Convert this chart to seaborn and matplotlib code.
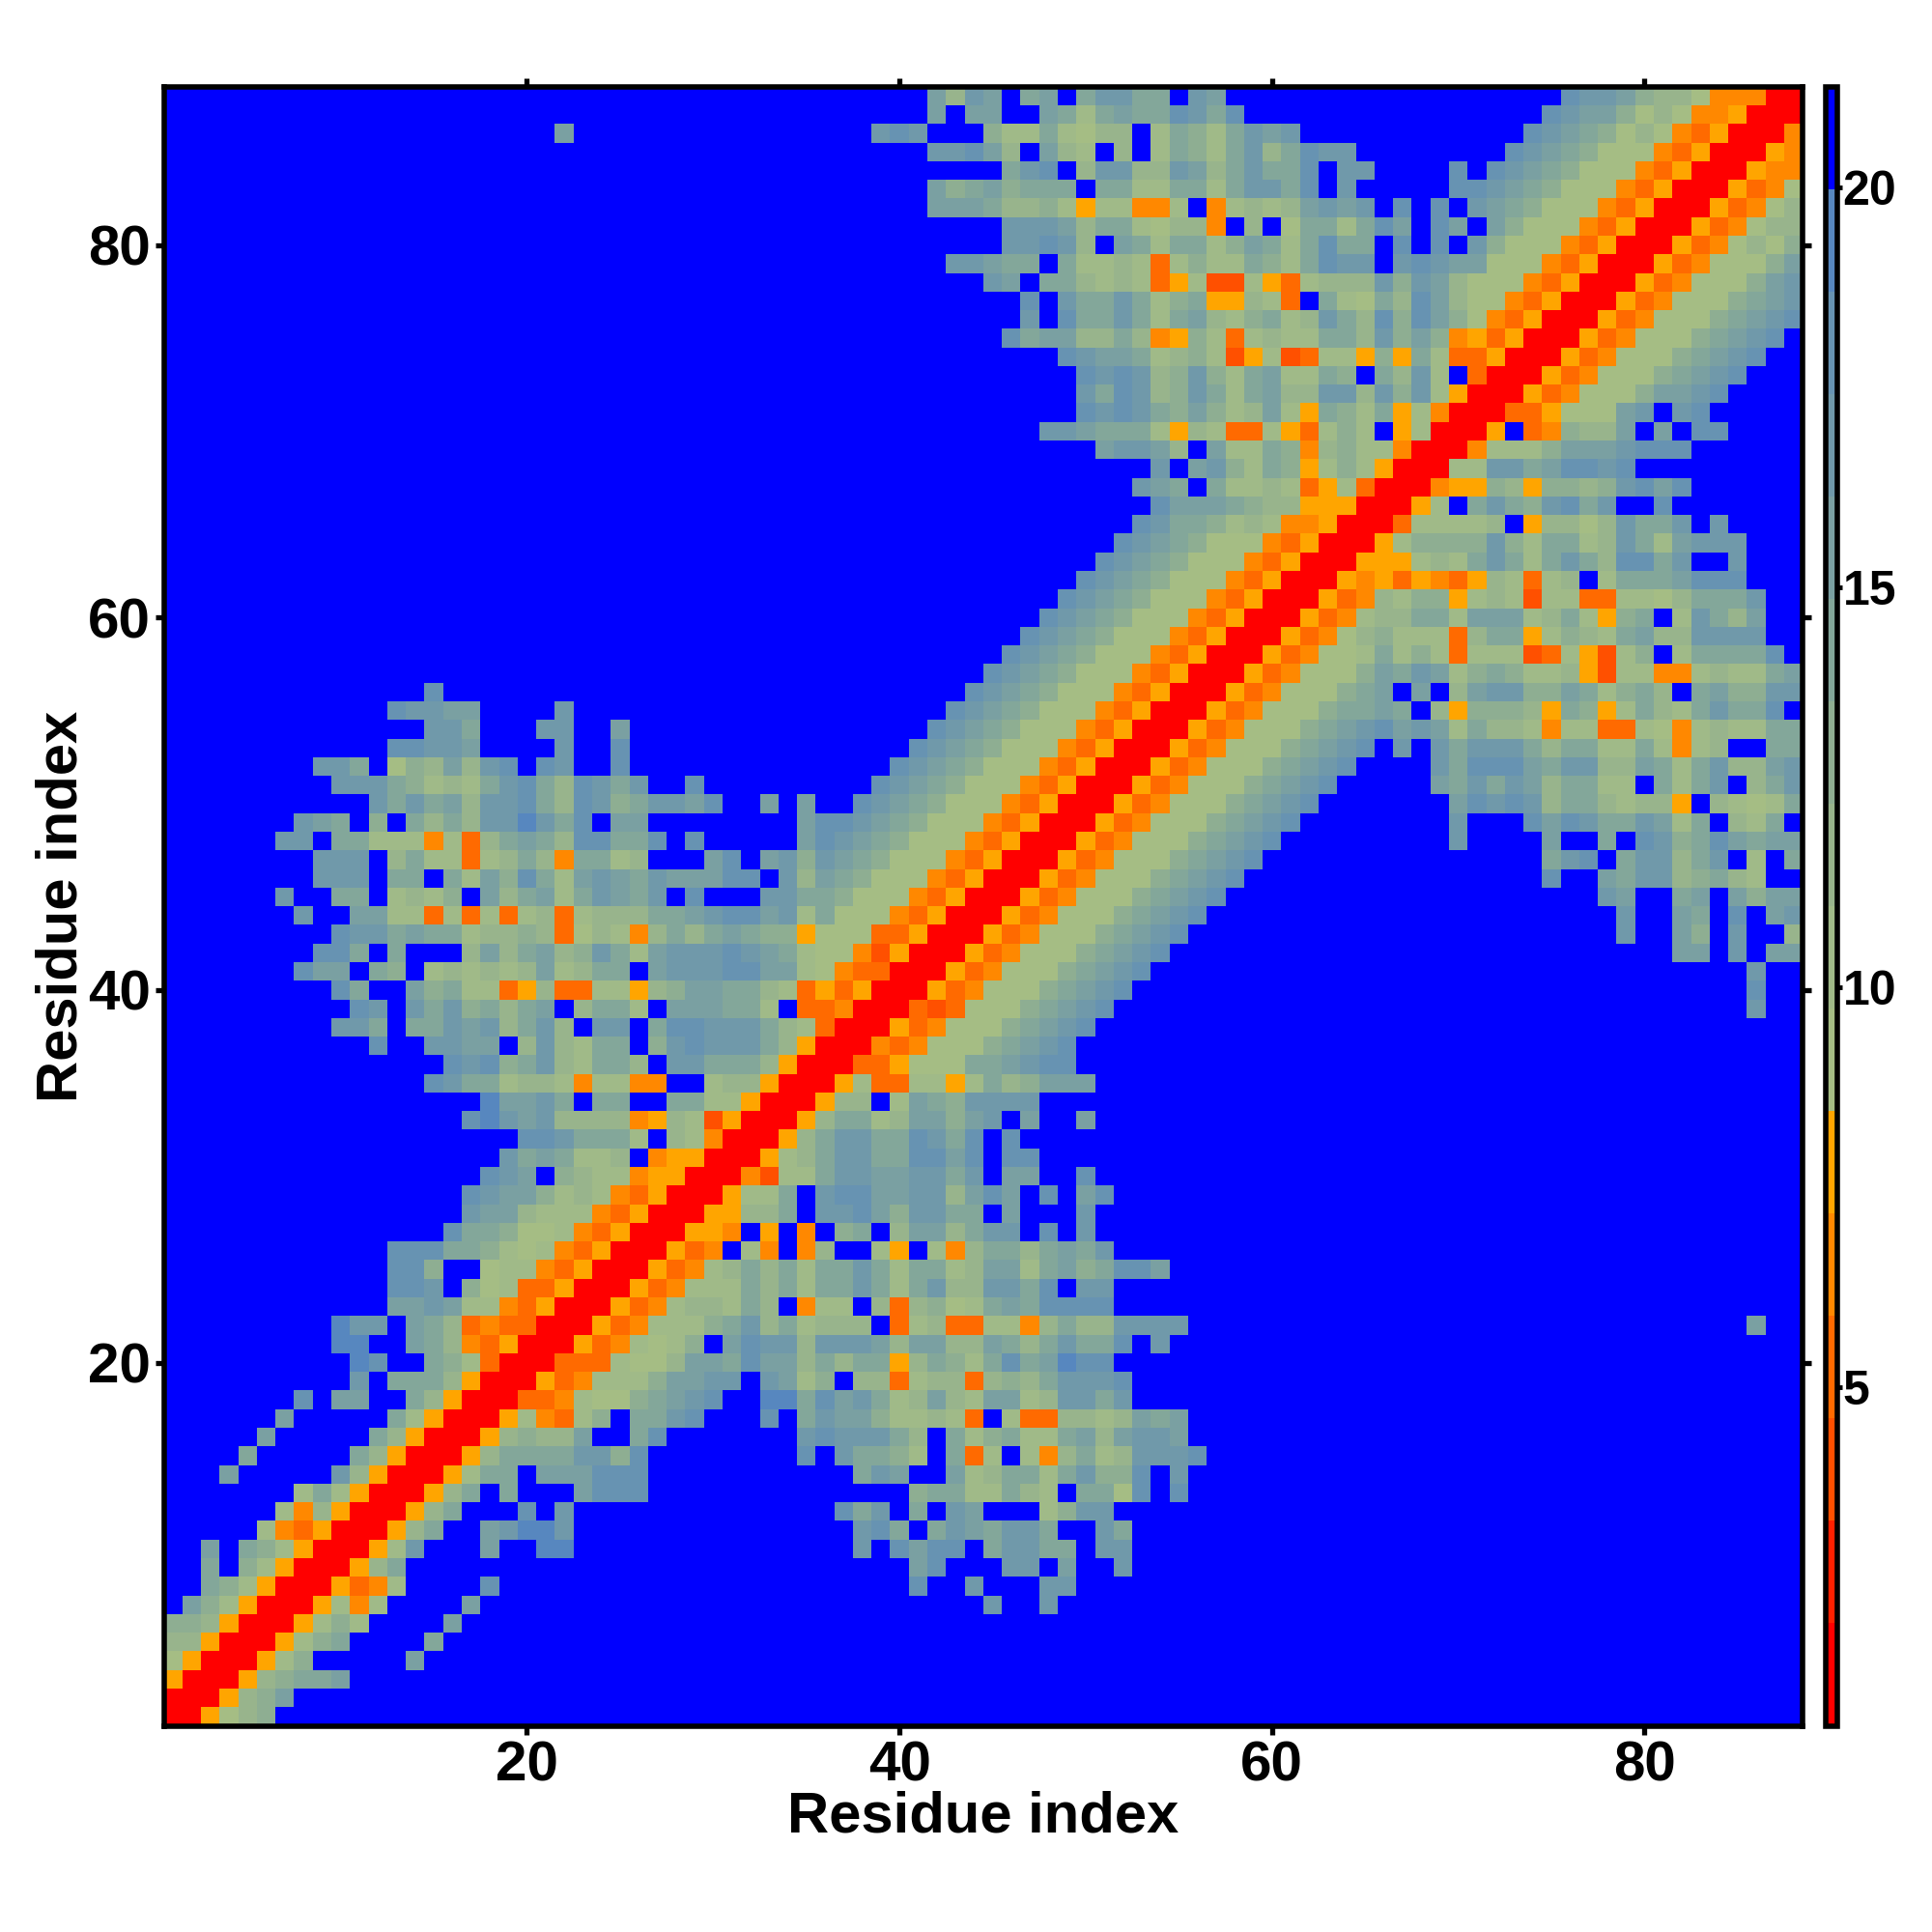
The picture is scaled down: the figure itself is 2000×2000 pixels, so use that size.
import numpy as np
import matplotlib
matplotlib.use('Agg')
import matplotlib.pyplot as plt
from matplotlib.colors import ListedColormap
import seaborn as sns

# distance map (symmetric, upper half only)
# every row: (first residue, colour class per residue), f = beyond the cutoff
band = "005346669abcd"
rows = [
    [(1, "005689")],
    [(2, "00589b")],
    [(3, "00589aab")],
    [(4, "00579"), (14, "b")],
    [(5, "00579a"), (15, "a")],
    [(6, "005797"), (16, "b")],
    [(7, "005747"), (17, "b"), (45, "c"), (48, "c")],
    [(8, "005347"), (18, "d"), (41, "d"), (44, "c"), (48, "cc")],
    [(9, "0058a"), (41, "bd"), (46, "ccfbffc")],
    [(10, "0057c"), (18, "bffee"), (38, "cfdbddfaccaafcc")],
    [(11, "0058affbceec"), (38, "cdafacbaccaffca")],
    [(12, "0058afffdfc"), (37, "dacfafcbfff79cc")],
    [(13, "0058afafffbddd"), (41, "9aa77a87faa6dfd")],
    [(14, "0057aafbbbddd"), (38, "acbffb78aa7ac99dfc")],
    [(15, "0058aaaacc9d"), (35, "dfcaa97fa37f748a78cccd")],
    [(16, "0058988bffad"), (35, "cdccca8fa79a77ab8bccb")],
    [(17, "00574379faacdfffdfacbb977873f7338878bab")],
    [(18, "00334" "7669a" "bcdff" "eeadb" "ca78b" "87bb7" "8ccac")],
    [(19, "005347779bbccfcb79f8837883898acccd")],
    [(20, "00333" "7668b" "badbb" "8a8aa" "58a97" "adabe" "dd")],
    [(21, "00534" "7679f" "bdcc8" "cccb8" "bb88b" "a8aca" "adfc")],
    [(22, "00534" "7779a" "c8a78" "88f37" "83377" "48a88" "cccc"), (86, "b")],
    [(23, "00534" "7887a" "8f477" "f8389" "67aba" "dddd")],
    [(24, "00534" "777a8" "a7aac" "a7ac8" "8ccad" "fcc")],
    [(25, "00534" "78a8a" "7aaca" "7aa78" "bb7ab" "9addb")],
    [(26, "00534" "f74f4" "8ff75" "f748a" "a8aba" "c")],
    [(27, "00554" "f5f4f" "9af8b" "b8acc" "fdfc")],
    [(28, "00558" "8afcc" "db9cc" "aafbf" "ffc")],
    [(29, "00577" "afcdd" "bbcc8" "bdbfd" "fbd")],
    [(30, "00427" "7accb" "bccac" "fbbff" "d")],
    [(31, "00578" "accaa" "ddbdf" "dd")],
    [(32, "0058a" "ccaad" "cadfd")],
    [(33, "0058a" "a78bb" "9bcfb" "ffb")],
    [(34, "00588" "f7ba9" "cccc")],
    [(35, "00573" "37757" "a89bb" "b")],
    [(36, "00335" "666aa" "bcdd")],
    [(37, "004346669abcd")],
    [(38, band)],
    [(39, "003236669abcd"), (86, "c")],
    [(40, band), (86, "d")],
    [(41, band), (86, "c")],
    [(42, band), (82, "bb"), (85, "c"), (87, "bb")],
    [(43, band), (79, "c"), (82, "b9"), (85, "c"), (88, "8")],
    [(44, band), (79, "c"), (82, "ba"), (85, "d"), (87, "bc")],
    [(45, band), (78, "cb"), (82, "ab"), (85, "b9bb")],
    [(46, band), (75, "d"), (78, "bacc89a87")],
    [(47, band), (75, "acdfacc8acf7fa")],
    [(48, band), (70, "c"), (75, "bffafdc9adbabb")],
    [(49, band), (70, "c"), (74, "dbdcaacb7af87a")],
    [(50, band), (70, "bdcdc8aa87885f8767a")],
    [(51, band), (69, "bacacb8aa77fa7acf8ac")],
    [(52, band), (69, "cadddbacc88ba7ac88bc")],
    [(53, band), (67, "cfcaccca8aa77a7478ffaa")],
    [(54, band), (67, "bcb7a887477337647877aa")],
    [(55, "005346669a"), (65, "abaf8599985a957a87acaad")],
    [(56, "005346669"), (65, "abfbf8bcc99ba79a8fab99cc")],
    [(57, "00534666"), (65, "9bacb79a97785277447877ab")],
    [(58, "0053466"), (65, "7a79737772375279f7aaaad")],
    [(59, "005346"), (65, "8977738aa57987ab88cccc")],
    [(60, "00534"), (65, "788aa7bbb78a759af7ca8b")],
    [(61, "0053"), (65, "487995787277337768aaac")],
    [(62, "005"), (65, "453543587378f7aaabddd")],
    [(63, "00"), (65, "555787aca7aca8ddacffc")],
    [(64, "00579999c97aa78ca7bccc")],
    [(65, "00377778f58868caacfc")],
    [(66, "0057faca9cdacffd")],
    [(67, "004559859989cdbd")],
    [(68, "0077ccabddcd")],
    [(69, "0047779bbbcddd")],
    [(70, "005f34988bfbfdd")],
    [(71, "00335666bcfcd")],
    [(72, "005346669bbcd")],
    [(73, band)],
    [(74, band)],
    [(75, band)],
    [(76, band)],
    [(77, "005346669abc")],
    [(78, "005346669bc")],
    [(79, "005346669b")],
    [(80, "005346869")],
    [(81, "00534688")],
    [(82, "0053468")],
    [(83, "005346")],
    [(84, "00544")],
    [(85, "0054")],
    [(86, "004")],
    [(87, "00")],
    [(88, "0")],
]

level_colors = ['#ff0000', '#ff2000', '#ff5000', '#ff6a00', '#ff8800', '#ffa500',
                '#a5bd84', '#a0ba88', '#98b48c', '#8eae92', '#83a79a', '#7aa0a2',
                '#7099aa', '#6793b2', '#5787bf', '#0000ff']
val_min = 0.76
val_max = 21.26
axis_ticks = [20, 40, 60, 80]
cbar_ticks = [5, 10, 15, 20]
axis_label = 'Residue index'

n = len(rows)
step = (val_max - val_min) / len(level_colors)
mat = np.full((n, n), val_min + 15.5 * step)
for i, segs in enumerate(rows):
    for first, codes in segs:
        for k, ch in enumerate(codes):
            val = val_min + (int(ch, 16) + 0.5) * step
            mat[i, first - 1 + k] = val
            mat[first - 1 + k, i] = val

plt.rcParams['font.family'] = ['Liberation Sans', 'DejaVu Sans']
plt.rcParams['font.weight'] = 'bold'

fig = plt.figure(figsize=(20, 20), dpi=100)
ax = fig.add_axes([169.5 / 2000, 1 - 1786.5 / 2000, 1696.8 / 2000, 1696.8 / 2000])
cax = fig.add_axes([1889.5 / 2000, 1 - 1786.5 / 2000, 12 / 2000, 1696.8 / 2000])

sns.heatmap(mat, ax=ax, cbar_ax=cax, cmap=ListedColormap(level_colors),
            vmin=val_min, vmax=val_max, xticklabels=False, yticklabels=False,
            cbar_kws={'ticks': cbar_ticks})
ax.invert_yaxis()

tick_pos = [t - 0.5 for t in axis_ticks]
ax.set_xticks(tick_pos)
ax.set_yticks(tick_pos)
ax.set_xticklabels(axis_ticks, fontsize=42, fontweight='bold', rotation=0)
ax.set_yticklabels(axis_ticks, fontsize=42, fontweight='bold', rotation=0)
ax.tick_params(axis='both', which='major', direction='out', length=6.5, width=3.8,
               top=True, right=True, left=True, bottom=True)
ax.tick_params(axis='x', pad=4.5)
ax.tick_params(axis='y', pad=3.5)
ax.set_xlabel(axis_label, fontsize=43, fontweight='bold', va='center')
ax.set_ylabel(axis_label, fontsize=43, fontweight='bold', va='center')
ax.xaxis.set_label_coords(0.5, -0.0555)
ax.yaxis.set_label_coords(-0.0622, 0.5)
for sp in ax.spines.values():
    sp.set_visible(True)
    sp.set_linewidth(4)
    sp.set_color('black')

cb = ax.collections[0].colorbar
cb.outline.set_visible(True)
cb.outline.set_linewidth(4)
cb.outline.set_edgecolor('black')
cax.tick_params(axis='y', direction='out', length=3.6, width=3.5, labelsize=36, pad=0.7)
for lab in cax.get_yticklabels():
    lab.set_fontweight('bold')

fig.savefig('out.png', dpi=100, facecolor='white')
